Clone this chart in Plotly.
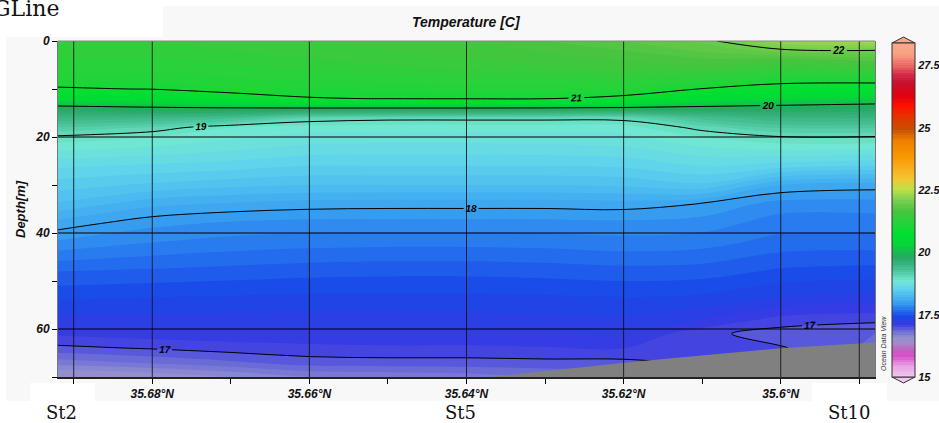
import numpy as np
import plotly.graph_objects as go

# ---------------- data ----------------
LATS = [35.692, 35.68, 35.67, 35.66, 35.65, 35.64, 35.63, 35.62, 35.61, 35.60, 35.588]
DEPTHS = [0, 2, 5, 8, 10, 12, 14, 16, 18, 20, 22, 26, 30, 34, 38, 42, 48, 54, 58, 61, 64, 67, 70]

T_35692 = [21.40, 21.35, 21.25, 21.12, 20.97, 20.50, 19.85, 19.50, 19.20, 18.97, 18.85, 18.62, 18.45, 18.28, 18.06, 17.88, 17.60, 17.40, 17.25, 17.12, 16.97, 16.75, 16.45]
T_35680 = [21.40, 21.35, 21.25, 21.14, 21.01, 20.60, 19.93, 19.45, 19.08, 18.90, 18.80, 18.58, 18.38, 18.13, 17.93, 17.80, 17.58, 17.38, 17.26, 17.15, 17.01, 16.82, 16.50]
T_35670 = [21.45, 21.40, 21.30, 21.18, 21.10, 20.85, 19.97, 19.35, 18.90, 18.82, 18.74, 18.55, 18.33, 18.08, 17.88, 17.76, 17.56, 17.37, 17.26, 17.16, 17.05, 16.88, 16.60]
T_35660 = [21.50, 21.45, 21.35, 21.22, 21.12, 20.98, 19.98, 19.10, 18.85, 18.76, 18.68, 18.50, 18.30, 18.05, 17.86, 17.74, 17.54, 17.36, 17.26, 17.17, 17.07, 16.95, 16.70]
T_35650 = [21.55, 21.50, 21.40, 21.25, 21.13, 21.01, 19.98, 19.05, 18.84, 18.75, 18.67, 18.50, 18.30, 18.04, 17.86, 17.73, 17.53, 17.36, 17.26, 17.18, 17.08, 16.96, 16.72]
T_35640 = [21.60, 21.55, 21.45, 21.28, 21.15, 21.02, 19.98, 19.05, 18.84, 18.75, 18.67, 18.50, 18.30, 18.04, 17.86, 17.73, 17.53, 17.36, 17.26, 17.18, 17.08, 16.96, 16.75]
T_35630 = [21.70, 21.62, 21.50, 21.30, 21.15, 21.01, 19.97, 19.05, 18.84, 18.76, 18.68, 18.50, 18.30, 18.04, 17.86, 17.74, 17.54, 17.37, 17.27, 17.19, 17.09, 16.97, 16.80]
T_35620 = [21.80, 21.70, 21.55, 21.32, 21.15, 20.93, 19.93, 19.06, 18.85, 18.77, 18.70, 18.52, 18.32, 18.05, 17.87, 17.76, 17.56, 17.38, 17.28, 17.20, 17.10, 16.97, 16.85]
T_35610 = [21.93, 21.82, 21.60, 21.25, 20.99, 20.55, 19.88, 19.35, 19.05, 18.90, 18.80, 18.60, 18.38, 17.99, 17.85, 17.74, 17.55, 17.36, 17.20, 17.03, 17.02, 17.02, 16.95]
T_35600 = [22.30, 21.95, 21.50, 21.12, 20.85, 20.35, 19.85, 19.50, 19.22, 18.99, 18.85, 18.55, 18.10, 17.85, 17.75, 17.66, 17.48, 17.28, 17.06, 16.95, 17.01, 17.02, 17.03]
T_35588 = [22.40, 21.99, 21.60, 21.12, 20.80, 20.25, 19.80, 19.50, 19.22, 18.99, 18.85, 18.50, 18.05, 17.85, 17.75, 17.65, 17.46, 17.24, 17.03, 16.90, 16.88, 16.90, 16.90]

TEMP_COLUMNS = [T_35692, T_35680, T_35670, T_35660, T_35650, T_35640,
                T_35630, T_35620, T_35610, T_35600, T_35588]

# sea-floor (grey)
BOTTOM_LAT = [35.6383, 35.618, 35.600, 35.588]
BOTTOM_DEPTH = [70.2, 66.7, 64.0, 62.8]

CONTOUR_LEVELS = [17, 22, 1]   # start, end, step
GRID_LATS = [35.69, 35.68, 35.66, 35.64, 35.62, 35.60, 35.59]
GRID_DEPTHS = [20, 40, 60]

X_TICKS = [35.69, 35.68, 35.67, 35.66, 35.65, 35.64, 35.63, 35.62, 35.61, 35.60, 35.59]
X_TICKTEXT = ["", "35.68°N", "", "35.66°N", "", "35.64°N", "", "35.62°N", "", "35.6°N", ""]
Y_TICKS = [0, 10, 20, 30, 40, 50, 60, 70]
Y_TICKTEXT = ["0", "", "20", "", "40", "", "60", ""]
CB_TICKS = [15, 17.5, 20, 22.5, 25, 27.5]
CB_TICKTEXT = ["15", "17.5", "20", "22.5", "25", "27.5"]
STATIONS = ["St2", "St5", "St10"]

# ODV-like colour scale
CS_T = [15.0, 15.47, 15.85, 16.1, 16.36, 16.6, 16.87, 17.12, 17.44, 17.75, 18.0, 18.3,
        18.6, 18.9, 19.25, 19.55, 19.85, 20.1, 20.4, 20.8, 21.2, 21.7, 22.2, 22.6, 22.99,
        23.4, 23.9, 24.55, 25.0, 25.45, 25.97, 26.36, 26.88, 27.27, 27.5, 27.78, 28.0, 28.4]
CS_C = ["#f2c8f2", "#e8a0e0", "#d850c8", "#c060c0", "#a888c8", "#9090d0", "#6a6ad8", "#3a3ae2",
        "#1848e8", "#2878f0", "#38a0f0", "#4cbcf0", "#62d6ea", "#70e8d0", "#50c8a0", "#38b480",
        "#26a862", "#14c04a", "#04d838", "#00e030", "#22d438", "#48c440", "#80d050", "#c0e048",
        "#f0c830", "#f8b020", "#f89800", "#f08000", "#c85000", "#e03800", "#ff1000", "#e00010",
        "#c81030", "#d83050", "#e86060", "#f08070", "#f8a080", "#f8a888"]
ZMIN, ZMAX = 15.0, 28.4
X_RANGE = [35.692, 35.588]
Y_RANGE = [70, 0]

# ---------------- figure ----------------
Z = np.array(TEMP_COLUMNS).T
colorscale = [[(t - ZMIN) / (ZMAX - ZMIN), c] for t, c in zip(CS_T, CS_C)]

W, H = 939, 423
PL, PR, PT, PB = 58, 875, 41, 377


def px(x):
    return (x - PL) / (PR - PL)


def py(y):
    return (PB - y) / (PB - PT)


bold_it = dict(family="Liberation Sans, Arial, sans-serif", weight="bold", style="italic")
serif = "DejaVu Serif, serif"

fig = go.Figure()

fig.add_trace(go.Contour(
    x=LATS, y=DEPTHS, z=Z,
    zauto=False, zmin=ZMIN, zmax=ZMAX,
    colorscale=colorscale,
    autocontour=False,
    contours=dict(start=ZMIN, end=ZMAX, size=0.1, coloring="fill", showlines=False),
    line=dict(width=0),
    hoverinfo="skip",
    colorbar=dict(
        x=px(892), xanchor="left", xpad=0,
        y=py(210), yanchor="middle", ypad=0,
        thickness=23, thicknessmode="pixels",
        len=334, lenmode="pixels",
        tickvals=CB_TICKS, ticktext=CB_TICKTEXT, ticks="",
        tickfont=dict(size=11, color="#111", **bold_it),
        outlinecolor="#333", outlinewidth=1,
    ),
))

fig.add_trace(go.Contour(
    x=LATS, y=DEPTHS, z=Z,
    autocontour=False,
    contours=dict(start=CONTOUR_LEVELS[0], end=CONTOUR_LEVELS[1], size=CONTOUR_LEVELS[2],
                  coloring="none", showlabels=True,
                  labelfont=dict(size=10, color="black", **bold_it)),
    line=dict(color="black", width=1),
    showscale=False, hoverinfo="skip",
))

fig.add_trace(go.Scatter(
    x=BOTTOM_LAT + [X_RANGE[1], BOTTOM_LAT[0]],
    y=BOTTOM_DEPTH + [Y_RANGE[0] + 2, Y_RANGE[0] + 2],
    mode="lines", fill="toself", fillcolor="#808080",
    line=dict(width=0, color="#808080"), hoverinfo="skip", showlegend=False,
))

shapes = []
# page background panels
shapes.append(dict(type="rect", xref="paper", yref="paper", x0=px(6), x1=px(940), y0=py(401), y1=py(6),
                   fillcolor="#f8f8f8", line=dict(width=0), layer="below"))
for (x0, y0, x1, y1) in [(-2, -2, 163, 37), (30, 383, 95, 430), (812, 383, 887, 430)]:
    shapes.append(dict(type="rect", xref="paper", yref="paper", x0=px(x0), x1=px(x1), y0=py(y1), y1=py(y0),
                       fillcolor="white", line=dict(width=0), layer="below"))
# grid lines
for lat in GRID_LATS:
    shapes.append(dict(type="line", xref="x", yref="paper", x0=lat, x1=lat, y0=0, y1=1,
                       line=dict(color="rgba(15,15,15,0.85)", width=1)))
for d in GRID_DEPTHS:
    shapes.append(dict(type="line", xref="paper", yref="y", x0=0, x1=1, y0=d, y1=d,
                       line=dict(color="black", width=1)))
# top border
shapes.append(dict(type="line", xref="paper", yref="paper", x0=0, x1=1, y0=1, y1=1,
                   line=dict(color="#888", width=1)))
# colorbar end arrows
shapes.append(dict(type="path", xref="paper", yref="paper",
                   path=f"M {px(892)},{py(43)} L {px(903.5)},{py(37)} L {px(915)},{py(43)} Z",
                   fillcolor="#f8a888", line=dict(color="#333", width=1)))
shapes.append(dict(type="path", xref="paper", yref="paper",
                   path=f"M {px(892)},{py(377)} L {px(903.5)},{py(383)} L {px(915)},{py(377)} Z",
                   fillcolor="#f2c8f2", line=dict(color="#333", width=1)))

annotations = [
    dict(text="Temperature [C]", xref="paper", yref="paper", x=px(466), y=py(22),
         xanchor="center", yanchor="middle",
         showarrow=False, font=dict(size=14, color="#111", **bold_it)),
    dict(text="Depth[m]", xref="paper", yref="paper", x=px(20), y=py(209), textangle=-90,
         xanchor="center", yanchor="middle",
         showarrow=False, font=dict(size=13, color="#111", **bold_it)),
    dict(text="Ocean Data View", xref="paper", yref="paper", x=px(883), y=py(344), textangle=-90,
         xanchor="center", yanchor="middle",
         showarrow=False, font=dict(size=7, color="#333", family="Liberation Sans", style="italic")),
    dict(text="GLine", xref="paper", yref="paper", x=px(61), y=py(9), xanchor="right", yanchor="middle",
         showarrow=False, font=dict(size=22, color="#111", family=serif)),
]
for name, xc in zip(STATIONS, [61, 460, 849]):
    annotations.append(dict(text=name, xref="paper", yref="paper", x=px(xc), y=py(412),
                            xanchor="center", yanchor="middle", showarrow=False,
                            font=dict(size=18, color="#111", family=serif)))

fig.update_layout(
    width=W, height=H, autosize=False,
    margin=dict(l=PL, r=W - PR, t=PT, b=H - PB, autoexpand=False),
    paper_bgcolor="white", plot_bgcolor="rgba(0,0,0,0)",
    showlegend=False,
    shapes=shapes, annotations=annotations,
    xaxis=dict(range=X_RANGE, tickvals=X_TICKS, ticktext=X_TICKTEXT,
               ticks="outside", ticklen=5, tickcolor="black", tickwidth=1,
               showgrid=False, zeroline=False, showline=True, linecolor="#222", linewidth=1.5,
               tickfont=dict(size=12, color="#111", **bold_it)),
    yaxis=dict(range=Y_RANGE, tickvals=Y_TICKS, ticktext=Y_TICKTEXT,
               ticks="outside", ticklen=5, tickcolor="black", tickwidth=1,
               showgrid=False, zeroline=False, showline=True, linecolor="#777", linewidth=1,
               mirror=True, tickfont=dict(size=12, color="#111", **bold_it)),
)

fig.write_html("out.html", config={"displayModeBar": False},
               post_script="document.body.style.margin='0px';document.body.style.overflow='hidden';")
